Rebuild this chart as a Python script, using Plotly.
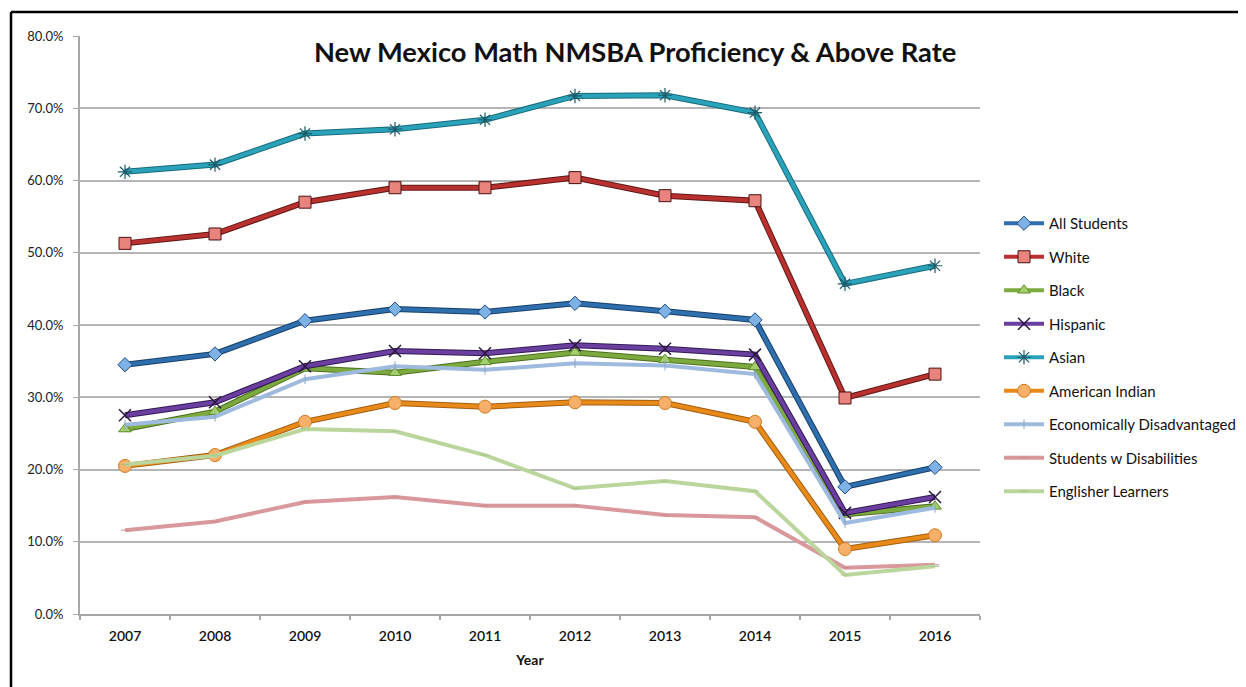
import plotly.graph_objects as go

years = ["2007", "2008", "2009", "2010", "2011", "2012", "2013", "2014", "2015", "2016"]

all_students = [34.5, 36.0, 40.6, 42.2, 41.8, 43.0, 41.9, 40.7, 17.6, 20.3]
white = [51.3, 52.6, 57.0, 59.0, 59.0, 60.4, 57.9, 57.2, 29.9, 33.2]
black = [25.6, 28.0, 34.0, 33.4, 34.9, 36.2, 35.2, 34.2, 13.8, 14.9]
hispanic = [27.5, 29.3, 34.3, 36.4, 36.1, 37.2, 36.7, 35.9, 14.0, 16.2]
asian = [61.2, 62.2, 66.5, 67.1, 68.4, 71.7, 71.8, 69.4, 45.7, 48.2]
american_indian = [20.5, 22.0, 26.6, 29.2, 28.7, 29.3, 29.2, 26.6, 9.0, 10.9]
econ_disadv = [26.2, 27.3, 32.5, 34.3, 33.8, 34.7, 34.4, 33.2, 12.6, 14.7]
disabilities = [11.6, 12.8, 15.5, 16.2, 15.0, 15.0, 13.7, 13.4, 6.4, 6.8]
english_learners = [20.7, 21.9, 25.6, 25.3, 22.0, 17.4, 18.4, 17.0, 5.4, 6.6]

series_names = ["All Students", "White", "Black", "Hispanic", "Asian",
                "American Indian", "Economically Disadvantaged",
                "Students w Disabilities", "Englisher Learners"]
series_values = [all_students, white, black, hispanic, asian,
                 american_indian, econ_disadv, disabilities, english_learners]
y_ticks = [0, 10, 20, 30, 40, 50, 60, 70, 80]
y_tick_labels = [f"{v:.1f}%" for v in y_ticks]

styles = [
    dict(color="#2F6FAE", edge="#17406B", marker=dict(symbol="diamond", size=11, color="#7EB1E6", line=dict(color="#1F4E80", width=1))),
    dict(color="#B8312F", edge="#601816", marker=dict(symbol="square", size=12, color="#E9837E", line=dict(color="#4A1010", width=1))),
    dict(color="#7DAA3E", edge="#4C7022", marker=dict(symbol="triangle-up", size=11, color="#A3CF6C", line=dict(color="#5E8A2A", width=1))),
    dict(color="#6B3FA0", edge="#331B55", marker=dict(symbol="x-thin", size=12, color="#2A1840", line=dict(color="#2A1840", width=1.5))),
    dict(color="#2AA3BA", edge="#176A7A", marker=dict(symbol="asterisk", size=12, color="#1D5C68", line=dict(color="#1D5C68", width=1.2))),
    dict(color="#E88A1A", edge="#A35E10", marker=dict(symbol="circle", size=13, color="#F7B069", line=dict(color="#D07A1A", width=1))),
    dict(color="#9FBADF", edge=None, marker=dict(symbol="line-ns", size=7, color="#9FBADF", line=dict(color="#8AA6CC", width=1))),
    dict(color="#D9999C", edge=None, marker=dict(symbol="line-ew", size=6, color="#D9999C", line=dict(color="#C98A8D", width=1))),
    dict(color="#BBD69C", edge=None, marker=dict(symbol="line-ew", size=6, color="#BBD69C", line=dict(color="#A8C487", width=1))),
]

fig = go.Figure()

for name, vals, st in zip(series_names, series_values, styles):
    if st["edge"]:
        fig.add_trace(go.Scatter(
            x=years, y=vals, mode="lines", showlegend=False, hoverinfo="skip",
            line=dict(color=st["edge"], width=6), legendgroup=name))
    fig.add_trace(go.Scatter(
        x=years, y=vals, name=name, mode="lines+markers", legendgroup=name,
        line=dict(color=st["color"], width=4), marker=st["marker"]))

# page is drawn with an 8px body offset; plot area target: x 80-980, y 36-614 on screen
L, T, R, B = 72, 28, 972, 606
W, H = 1238, 679
pw, ph = R - L, B - T


def px(x):
    return (x - 8 - L) / pw


def py(y):
    return (B - (y - 8)) / ph


fig.update_layout(
    width=W, height=H,
    paper_bgcolor="white", plot_bgcolor="white",
    margin=dict(l=L, r=W - R, t=T, b=H - B, autoexpand=False),
    font=dict(family="Lato, 'Open Sans', sans-serif", color="#111"),
    showlegend=True,
    legend=dict(x=px(999), xanchor="left", y=py(207), yanchor="top",
                font=dict(size=15, color="#111"), tracegroupgap=11,
                traceorder="grouped", itemwidth=40, bgcolor="rgba(0,0,0,0)"),
    xaxis=dict(type="category", showgrid=False, showline=True, linecolor="#A8A8A8",
               linewidth=2, ticks="outside", tickson="boundaries", ticklen=4,
               tickcolor="#A8A8A8", tickwidth=1.5, ticklabelstandoff=8,
               tickfont=dict(size=14, color="#111", weight=600),
               title=dict(text="Year", font=dict(size=14, weight=700), standoff=12),
               range=[-0.5, 9.5]),
    yaxis=dict(range=[0, 80], tickvals=y_ticks, ticktext=y_tick_labels,
               showgrid=True, gridcolor="#B5B5B5", gridwidth=2,
               showline=True, linecolor="#A8A8A8", linewidth=2,
               ticks="outside", ticklen=5, tickcolor="#A8A8A8", ticklabelstandoff=7,
               tickfont=dict(size=13, color="#222"), zeroline=False),
    annotations=[dict(text="<b>New Mexico Math NMSBA Proficiency & Above Rate</b>",
                      xref="paper", yref="paper", x=px(635), y=py(52),
                      xanchor="center", yanchor="middle", showarrow=False,
                      font=dict(size=27.3, color="#111"))],
    shapes=[
        dict(type="line", xref="paper", yref="paper", x0=px(11), x1=px(1260),
             y0=py(12), y1=py(12), line=dict(color="black", width=2.5)),
        dict(type="line", xref="paper", yref="paper", x0=px(11), x1=px(11),
             y0=py(700), y1=py(12), line=dict(color="black", width=2.5)),
    ],
)

fig.write_html("out.html")
